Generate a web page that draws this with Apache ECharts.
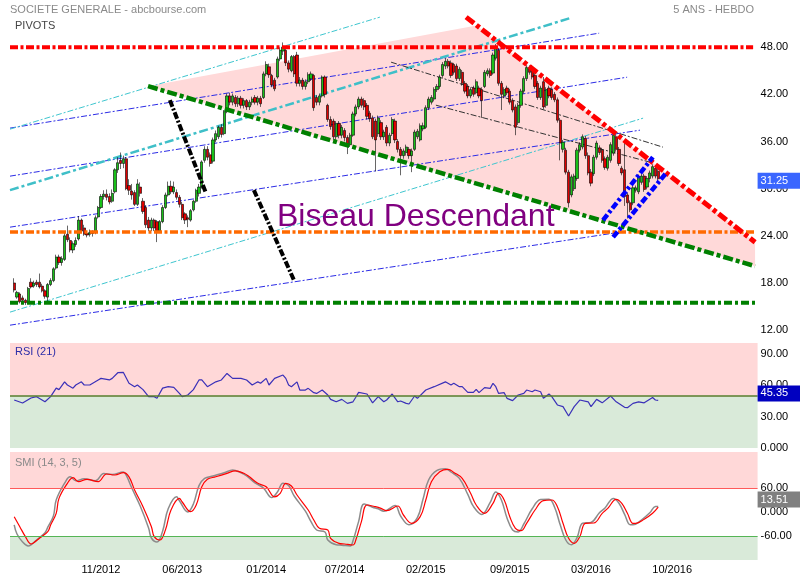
<!DOCTYPE html>
<html><head><meta charset="utf-8">
<script src="https://cdn.jsdelivr.net/npm/echarts/dist/echarts.min.js"></script>
<style>html,body{margin:0;padding:0;background:#fff}#c{width:800px;height:580px}</style>
</head><body><div id="c"></div>
<script>
// ---------- data ----------
const startDate = '2012-04-09';      // first weekly category
const nWeeks = 267;                  // weekly categories (incl. empty future)
const xTickDates = ['2012-11-19','2013-06-10','2014-01-06','2014-07-21','2015-02-09','2015-09-07','2016-03-28','2016-10-17'];

// weekly candles, week index 1..231
const opens = [18.0,16.2,16.6,16.1,15.8,15.5,18.1,17.6,18.1,18.1,17.6,17.0,16.2,17.8,18.3,19.9,21.3,20.6,21.0,24.2,
23.4,22.2,22.9,23.6,26.0,25.0,24.3,24.2,24.4,24.4,26.4,27.6,29.0,29.3,29.0,28.4,29.6,32.4,33.6,33.2,
33.8,30.4,29.7,29.5,28.0,30.2,28.4,27.6,26.0,25.0,26.0,25.8,24.6,25.8,27.6,29.2,30.3,29.6,29.5,28.9,
28.0,26.8,26.3,26.0,27.3,28.4,29.4,30.2,33.6,35.0,34.3,33.5,36.2,36.6,37.8,37.0,39.8,41.8,41.0,41.6,
40.8,41.5,40.6,41.2,40.4,41.0,41.6,41.0,41.5,41.6,44.6,45.5,44.4,43.8,44.2,46.5,47.5,47.6,46.0,45.0,
46.8,47.0,43.4,43.8,43.0,43.6,44.0,44.4,41.6,41.0,41.8,44.2,40.6,38.8,38.6,36.6,38.3,36.8,37.4,36.5,
35.6,36.8,39.5,40.4,41.4,41.2,40.6,39.6,39.0,38.6,37.0,38.4,36.6,37.8,35.8,37.0,38.6,36.0,35.0,34.2,
34.6,35.0,34.2,35.0,36.6,36.2,37.6,37.8,40.3,41.0,41.4,42.6,43.0,44.4,45.6,46.2,46.0,45.8,45.6,44.0,
44.8,43.4,43.0,41.8,42.8,42.2,42.8,42.6,43.0,44.6,45.0,44.7,46.6,47.6,43.4,41.8,42.8,42.4,41.2,40.4,
38.4,40.6,42.4,44.0,45.4,45.0,44.4,43.4,41.6,43.6,40.6,42.8,42.6,42.0,41.3,38.7,35.0,34.9,32.1,29.2,
30.0,31.3,34.9,35.3,36.4,34.2,32.1,31.9,34.0,35.2,34.9,33.8,32.6,33.6,34.5,36.6,35.0,32.6,32.4,29.2,
28.2,28.2,29.8,29.6,30.8,31.6,30.2,31.3,31.6,32.6,32.2];
const closes = [17.1,16.8,15.6,15.8,15.5,17.3,17.5,18.0,17.8,17.5,17.0,16.3,17.8,18.3,19.8,21.3,20.6,21.1,24.0,23.5,
22.2,23.0,23.4,26.0,24.6,24.2,24.1,24.4,24.3,26.3,27.6,29.0,29.3,28.9,28.3,29.4,32.4,33.3,33.2,33.8,
30.0,29.8,29.2,28.0,30.6,29.4,27.1,25.4,25.0,26.0,25.0,24.6,25.8,27.6,29.2,30.3,29.6,30.2,28.9,28.0,
26.3,26.0,26.1,27.2,28.4,29.8,30.2,33.4,35.0,34.0,33.2,36.2,37.0,37.8,36.9,39.8,41.8,41.0,41.8,40.8,
41.5,40.6,41.2,40.4,41.0,41.4,41.0,41.5,40.8,44.6,45.8,44.5,43.2,42.7,46.5,47.6,48.0,46.0,45.2,46.8,
44.6,43.4,43.8,43.0,43.6,44.5,44.6,40.3,41.0,41.8,44.2,42.0,38.8,37.9,36.6,38.3,36.8,37.8,36.5,35.6,
36.8,39.5,40.4,41.4,40.6,40.4,39.2,38.9,36.6,36.2,39.0,36.6,37.2,35.8,36.8,38.8,36.2,35.0,34.2,34.8,
35.3,34.2,34.8,37.2,37.3,38.0,38.0,40.3,41.4,41.6,42.6,43.0,44.2,45.8,46.2,45.6,44.4,44.8,44.0,45.2,
43.4,42.4,41.8,42.6,42.0,43.6,41.8,41.2,44.8,45.0,44.4,47.0,47.9,43.4,42.0,42.6,42.2,41.0,40.0,37.8,
40.6,42.4,44.0,45.4,44.8,44.2,43.0,41.6,42.8,40.4,42.6,41.8,41.6,41.3,38.7,35.8,35.9,32.1,28.2,31.5,
31.6,34.9,35.6,36.6,34.2,32.0,30.7,34.0,35.8,34.6,33.6,32.7,34.0,35.6,36.8,35.0,33.2,32.0,29.0,28.2,
27.3,30.1,30.1,31.5,31.6,29.9,31.3,32.0,32.8,31.6,31.25];
const lows = [16.8,16.0,15.4,15.5,15.2,15.4,17.3,17.4,17.5,17.3,16.8,16.0,15.7,17.6,18.1,19.7,20.3,20.2,20.8,23.2,
21.9,21.8,22.6,23.4,24.4,24.0,23.8,23.9,23.9,24.2,26.2,27.4,28.6,28.5,28.0,28.2,29.4,32.0,32.5,32.6,
29.8,29.2,28.6,27.8,27.8,29.0,26.8,25.0,24.6,24.6,24.6,23.2,24.4,25.6,27.4,29.0,29.3,29.3,28.6,27.6,
26.0,25.5,25.1,25.8,27.1,28.2,29.0,30.0,33.3,33.6,32.8,33.2,35.9,36.3,36.5,36.8,39.6,40.6,40.6,40.4,
40.4,40.2,40.2,40.0,40.0,40.6,40.7,40.6,40.4,41.4,44.3,44.1,42.9,42.4,44.0,46.2,47.0,45.6,44.8,44.8,
44.2,43.0,43.0,42.6,42.6,43.3,43.7,39.9,40.6,40.6,41.6,41.6,38.5,37.5,36.2,36.2,36.4,36.4,36.0,34.4,
35.3,36.6,39.2,40.1,40.3,40.0,38.8,38.5,36.3,32.2,36.6,36.2,36.2,35.4,35.4,36.7,35.8,34.6,31.7,33.8,
34.2,33.8,32.1,34.8,36.3,36.0,37.3,37.6,40.0,40.7,41.1,42.3,42.7,44.1,45.2,45.3,44.1,44.5,43.7,43.7,
43.1,42.1,41.5,41.5,41.7,42.0,41.5,39.0,42.8,44.3,44.1,44.5,46.3,43.1,40.0,41.5,41.9,40.7,39.7,36.8,
38.1,40.3,42.1,43.7,44.5,43.9,42.7,41.3,41.3,40.1,40.3,41.5,41.3,41.0,38.4,33.6,34.6,31.8,27.6,28.9,
29.7,31.0,34.6,35.0,33.8,31.7,30.3,31.6,33.7,34.3,33.3,32.4,32.3,33.3,34.2,34.7,32.9,31.7,27.8,26.2,
27.0,27.9,29.5,29.3,30.5,29.6,29.9,30.8,31.3,31.3,30.9];
const highs = [18.6,17.0,16.8,16.4,16.0,17.5,18.6,18.3,18.4,19.2,17.9,17.2,18.0,18.6,20.0,21.6,21.6,21.4,24.4,25.3,
23.8,23.3,23.8,26.5,26.2,25.4,24.6,24.8,24.7,26.6,27.8,29.3,29.8,29.9,29.4,29.9,32.6,34.0,34.6,34.2,
34.0,31.2,30.6,29.8,31.2,30.8,28.8,27.9,26.4,26.3,26.2,26.0,26.0,27.9,29.5,30.9,31.0,30.9,29.9,29.2,
28.3,27.0,26.6,27.4,28.6,30.0,30.6,33.6,35.4,35.4,34.6,36.5,37.4,38.0,38.2,40.0,42.1,42.2,42.1,41.9,
41.8,41.8,41.5,41.4,41.3,41.7,41.9,41.8,41.8,44.9,46.2,45.9,44.6,44.1,46.8,47.9,48.6,47.9,46.3,47.0,
47.0,47.4,44.2,44.1,43.9,44.8,44.9,44.6,41.9,42.1,44.4,44.4,40.8,39.2,38.9,38.6,38.6,38.1,37.7,36.8,
37.1,39.8,40.7,41.7,41.7,41.5,40.9,39.9,39.3,38.9,39.3,38.7,37.5,38.1,37.1,39.1,38.9,36.3,35.3,35.1,
35.6,35.3,35.1,37.5,37.6,38.3,38.4,40.6,41.7,41.9,42.9,43.3,44.5,46.1,46.6,46.5,46.3,46.0,45.9,45.5,
45.1,43.7,43.3,42.9,43.1,43.9,43.1,42.9,45.1,45.3,45.3,47.3,48.4,47.9,43.7,42.9,43.1,42.7,41.5,40.7,
40.9,42.7,44.3,45.7,45.7,45.3,44.7,43.7,43.1,44.2,42.9,43.1,42.9,42.3,41.6,39.0,36.2,35.2,32.4,31.8,
31.9,35.2,35.9,36.9,36.7,34.6,32.5,34.3,36.1,35.5,35.2,34.1,34.3,35.9,37.1,36.9,35.3,32.9,35.8,29.5,
28.5,30.4,30.4,31.8,31.9,31.9,31.6,32.3,33.1,32.9,32.5];

// RSI (21) : [week index, value]
const rsiPoints = [[1,45.7],[4,42.8],[7,47.6],[9,48.9],[12,44],[14,48.9],[16,57],[17,55.6],[19,63],[20,60],[22,57],[23,60],[25,63],[26,60],[28,60],[31,64.8],[32,66.3],[35,64.8],[36,66.3],[38,71.7],[40,72],[42,61.6],[44,58.4],[45,60],[47,55.6],[49,48.9],[51,48.9],[52,47.3],[54,57],[56,58.4],[58,57.8],[60,52],[61,48.9],[63,50.5],[65,55.6],[67,64.8],[68,64.8],[70,58.4],[73,63],[75,64.8],[77,71],[79,66.3],[82,66.3],[84,64.8],[86,60],[88,63],[89,61.6],[91,66.3],[92,60],[94,66.3],[97,69.5],[98,66.3],[99,60],[100,58.4],[102,63],[103,55.2],[105,55.2],[106,56.8],[108,52.7],[109,52],[111,55.2],[113,50.5],[114,46.3],[116,44],[118,46.3],[120,42.5],[122,44],[123,48.3],[124,53],[127,51.4],[129,43],[131,48.9],[133,44],[134,45.7],[136,51.4],[138,44],[139,44.8],[141,42.5],[142,41.9],[144,49.5],[145,47.3],[148,55.2],[151,58.4],[155,63],[157,60],[158,61.6],[160,58.4],[161,58.4],[163,53],[165,53],[166,55.9],[167,52.7],[169,57.5],[171,56.8],[172,61.6],[173,58.4],[174,52],[176,52.7],[177,47.3],[179,45.1],[181,50.5],[183,52],[184,55.2],[186,53.6],[187,55.2],[189,53.6],[190,47.3],[192,51.4],[193,48.9],[195,41],[197,39.4],[199,30.5],[201,39.4],[203,45.7],[206,44],[207,39.4],[209,46.3],[211,43],[214,49.5],[216,44],[219,38.7],[220,38.4],[222,42.5],[224,44],[226,43],[229,48.1],[230,45.7],[231,45.35]];

// SMI (14,3,5) : main (grey) and signal (red)
const smiMain = [[1,-32],[2,-55],[4,-75],[6,-85],[7,-82],[9,-70],[12,-52],[13,-38],[15,-10],[16,30],[19,72],[21,88],[23,78],[26,83],[30,78],[33,96],[36,94],[40,100],[41,92],[43,60],[46,15],[49,-40],[50,-65],[52,-75],[54,-48],[56,8],[59,38],[60,28],[63,0],[65,20],[67,66],[69,84],[72,90],[76,98],[79,105],[82,98],[84,90],[87,73],[90,60],[93,36],[95,50],[97,72],[99,66],[101,40],[105,2],[107,-24],[109,-45],[112,-50],[113,-70],[116,-82],[118,-83],[121,-85],[122,-72],[124,-24],[126,20],[129,12],[131,8],[133,2],[137,16],[139,-10],[142,-32],[145,-14],[147,32],[149,80],[152,104],[155,108],[157,100],[160,84],[163,44],[165,14],[168,-6],[171,24],[173,50],[175,30],[177,-15],[179,-45],[181,-50],[183,-30],[186,8],[189,31],[192,32],[194,12],[196,-32],[198,-70],[200,-82],[202,-64],[204,-28],[207,-26],[210,-2],[212,10],[215,34],[217,22],[219,-6],[221,-32],[222,-32],[225,-20],[228,-2],[230,14],[231,13.51]];
const smiSignal = [[1,-11.7],[3,-36.7],[5,-61.7],[7,-80],[8,-76.7],[10,-65.8],[13,-49],[14,-32.5],[16,-3.3],[17,34],[20,71.7],[22,85.8],[24,75.8],[27,81.6],[31,75.8],[34,95],[37,92.5],[40,98.3],[42,88],[44,55],[47,13.3],[50,-36.7],[51,-61.7],[53,-70],[55,-45],[57,5],[60,34],[61,25],[64,0.8],[66,17.5],[68,63],[70,81.7],[73,88],[77,96.7],[80,103],[83,96.7],[85,88],[88,71.7],[91,63],[94,38],[96,46.7],[98,71.7],[100,65],[102,42.5],[106,5],[108,-20],[110,-40.8],[113,-45],[114,-65.8],[117,-78.3],[119,-80],[122,-82.5],[123,-70],[125,-24],[127,17.5],[130,13.3],[132,9.2],[134,3.3],[138,15],[140,-7.5],[143,-28.3],[146,-11.7],[148,30],[150,75.8],[153,100.8],[156,106.7],[158,99],[161,84],[164,46.7],[166,17.5],[169,-3.3],[172,21.7],[174,46.7],[176,30],[178,-11.7],[180,-40.8],[182,-46.7],[184,-28.3],[187,5],[190,28.3],[193,30],[195,13.3],[197,-28.3],[199,-65.8],[201,-78.3],[203,-61.7],[205,-28.3],[208,-27.5],[211,-3.3],[213,9.2],[216,31.7],[218,21.7],[220,-3.3],[222,-28.3],[223,-28.3],[226,-18.3],[229,-3.3],[231,12]];

const lastPrice = 31.25, lastRsi = 45.35, lastSmi = 13.51;

// drawn trendlines / pivots : [week1, price1, week2, price2]
const pivot48 = [[-0.5,48,264.9,48]];
const pivotOrange = [[-0.5,24.5,265.6,24.5]];
const pivotGreen = [[-0.5,15.47,265.6,15.47]];
const wedgeTop = [[162.4,51.82,265.6,23.19]];
const wedgeBottom = [[48.8,43.04,265.6,20.14]];
const wedgeFill = [[48.8,43.04],[166.1,50.77],[265.6,23.19],[265.6,20.14]];
const cyanThin = [[-0.5,37.57,131.6,51.82],[-0.5,14.29,225.6,38.97]];
const cyanThick = [[-0.5,29.81,199.5,51.69]];
const blueThin = [[-0.5,37.70,209.9,49.78],[-0.5,31.59,219.9,44.18],[-0.5,25.10,224.5,37.44],[-0.5,12.63,217.4,24.47]];
const blackThick = [[56.6,41.26,69.5,29.43],[86.6,29.81,100.9,18.36]];
const darkThin = [[135.6,46.09,232.7,35.28],[151.6,40.62,228.1,33.37]];
const blueChannel = [[211.3,25.99,229.1,34.01],[214.9,23.83,234.1,32.10]];

// ---------- chart ----------
const FONT = '"Liberation Sans", Arial, sans-serif';
const DAY = 86400000;
const t0 = Date.parse(startDate + 'T00:00:00Z');
const weeks = [];
for (let k = 0; k < nWeeks; k++) weeks.push(new Date(t0 + k * 7 * DAY).toISOString().slice(0, 10));
const tickSet = new Set(xTickDates);
const candleData = opens.map((o, k) => [k + 1, o, closes[k], lows[k], highs[k]]);

function segSeries(list, color, width, dash, z) {
  return list.map(s => ({
    type: 'line', xAxisIndex: 1, yAxisIndex: 0, data: [[s[0], s[1]], [s[2], s[3]]],
    symbol: 'none', silent: true, animation: false, z: z,
    lineStyle: { color: color, width: width, type: dash, cap: 'butt' }
  }));
}
const ylab = { color: '#000', fontSize: 11, fontFamily: FONT, margin: 3 };
const grids = [
  { left: 10, width: 747.6, top: 0, height: 377.3, outerBoundsMode: 'none' },
  { left: 10, width: 747.6, top: 343, height: 105, outerBoundsMode: 'none' },
  { left: 10, width: 747.6, top: 452, height: 108, outerBoundsMode: 'none' }
];
const hiddenLine = { color: 'rgba(0,0,0,0)', width: 1, type: 'solid' };
function valueBox(bg, text, dy) {
  return { show: true, position: 'end', distance: 0, color: '#fff', backgroundColor: bg,
    fontSize: 11, fontFamily: FONT, padding: [1, 14, 1, 3], lineHeight: 14,
    formatter: text, offset: [0, dy], opacity: 1 };
}

const option = {
  animation: false,
  backgroundColor: '#fff',
  grid: grids,
  xAxis: [
    { type: 'category', gridIndex: 0, data: weeks, show: false },
    { type: 'value', gridIndex: 0, min: -0.5, max: nWeeks - 0.5, show: false },
    { type: 'category', gridIndex: 1, data: weeks, show: false },
    { type: 'category', gridIndex: 2, data: weeks, axisLine: { show: false }, axisTick: { show: false },
      splitLine: { show: false },
      axisLabel: { interval: (i, v) => tickSet.has(v), formatter: v => v.slice(5, 7) + '/' + v.slice(0, 4),
        color: '#000', fontSize: 11, fontFamily: FONT, margin: 4 } }
  ],
  yAxis: [
    { type: 'value', gridIndex: 0, position: 'right', min: 6, max: 54, interval: 6,
      axisLine: { show: false }, axisTick: { show: false }, splitLine: { show: false },
      axisLabel: Object.assign({}, ylab, { formatter: v => (v === 6 || v === 54) ? '' : v.toFixed(2) }) },
    { type: 'value', gridIndex: 1, position: 'right', min: 0, max: 100, interval: 30,
      axisLine: { show: false }, axisTick: { show: false }, splitLine: { show: false },
      axisLabel: Object.assign({}, ylab, { formatter: v => v === 100 ? '' : (v === 0 ? '0.000' : v.toFixed(2)) }) },
    { type: 'value', gridIndex: 2, position: 'right', min: -120, max: 150, interval: 60,
      axisLine: { show: false }, axisTick: { show: false }, splitLine: { show: false },
      axisLabel: Object.assign({}, ylab, { formatter: v => (v === 60 || v === -60) ? v.toFixed(2) : (v === 0 ? '0.000' : '') }) }
  ],
  graphic: [
    { type: 'text', x: 10, y: 10, style: { text: 'SOCIETE GENERALE - abcbourse.com', fill: '#8a8a8a', font: '11px ' + FONT, verticalAlign: 'middle' } },
    { type: 'text', x: 15, y: 25.5, style: { text: 'PIVOTS', fill: '#444', font: '11px ' + FONT, verticalAlign: 'middle' } },
    { type: 'text', x: 754, y: 10, style: { text: '5 ANS - HEBDO', fill: '#8a8a8a', font: '11px ' + FONT, align: 'right', verticalAlign: 'middle' } },
    { type: 'text', x: 277, y: 217, z: 20, style: { text: 'Biseau Descendant', fill: '#800080', font: '32px ' + FONT, verticalAlign: 'middle' } },
    { type: 'text', x: 15, y: 351.5, z: 20, style: { text: 'RSI (21)', fill: '#2c2ca8', font: '11px ' + FONT, verticalAlign: 'middle' } },
    { type: 'text', x: 15, y: 462.5, z: 20, style: { text: 'SMI (14, 3, 5)', fill: '#8a8a8a', font: '11px ' + FONT, verticalAlign: 'middle' } }
  ],
  series: [
    { type: 'custom', xAxisIndex: 1, yAxisIndex: 0, data: [wedgeFill[0]], silent: true, z: 1,
      renderItem: (params, api) => ({ type: 'polygon', shape: { points: wedgeFill.map(p => api.coord(p)) }, style: { fill: '#ffd9d9' } }) },
    ...segSeries(blueThin, '#2c2ce6', 1, [6, 2, 2, 2], 2),
    ...segSeries(cyanThin, '#3fc6cf', 1, [6, 2, 2, 2], 2),
    ...segSeries(cyanThick, '#3fbfc8', 2.5, [9, 3, 3, 3], 2),
    ...segSeries(darkThin, '#333', 1, [6, 2, 2, 2], 2),
    { type: 'candlestick', xAxisIndex: 0, yAxisIndex: 0, data: candleData, encode: { x: 0, y: [1, 2, 3, 4] },
      barWidth: 2.6, z: 3,
      itemStyle: { color: '#19c019', color0: '#e00000', borderColor: '#000', borderColor0: '#000', borderWidth: 0.6 },
      markLine: { silent: true, symbol: 'none', animation: false, z: 10,
        data: [{ yAxis: lastPrice, lineStyle: hiddenLine, label: valueBox('#3a66ff', lastPrice.toFixed(2), 2) }] } },
    ...segSeries(pivot48, '#ff0000', 4, [8, 2.5, 3, 2.5], 4),
    ...segSeries(pivotOrange, '#ff6a00', 3.5, [8, 2.5, 3, 2.5], 4),
    ...segSeries(pivotGreen, '#008000', 4, [8, 3, 3, 3], 4),
    ...segSeries(wedgeBottom, '#008000', 4.5, [10, 3, 4, 3], 4),
    ...segSeries(wedgeTop, '#ff0000', 5, [10, 3, 4, 3], 4),
    ...segSeries(blackThick, '#000', 4, [7, 2, 2, 2], 4),
    ...segSeries(blueChannel, '#0000ff', 4.5, [7, 2.5, 3, 2.5], 4),
    { type: 'line', xAxisIndex: 2, yAxisIndex: 1, data: rsiPoints, symbol: 'none', silent: true, z: 3,
      lineStyle: { color: '#3a30b8', width: 1.2 },
      markArea: { silent: true, data: [
        [{ yAxis: 50, itemStyle: { color: '#ffd8d8' } }, { yAxis: 100 }],
        [{ yAxis: 0, itemStyle: { color: '#d9ead9' } }, { yAxis: 50 }] ] },
      markLine: { silent: true, symbol: 'none', animation: false, z: 10, data: [
        { yAxis: 50, lineStyle: { color: '#5b7a2b', width: 1.5, type: 'solid' }, label: { show: false } },
        { yAxis: lastRsi, lineStyle: hiddenLine, label: valueBox('#0000c0', lastRsi.toFixed(2), -7) } ] } },
    { type: 'line', xAxisIndex: 3, yAxisIndex: 2, data: smiMain, symbol: 'none', silent: true, smooth: 0.4, z: 3,
      lineStyle: { color: '#8c8c8c', width: 1.5 },
      markArea: { silent: true, data: [
        [{ yAxis: 60, itemStyle: { color: '#ffd8d8' } }, { yAxis: 150 }],
        [{ yAxis: -120, itemStyle: { color: '#d9ead9' } }, { yAxis: -60 }] ] },
      markLine: { silent: true, symbol: 'none', animation: false, z: 10, data: [
        { yAxis: 60, lineStyle: { color: '#ff5a5a', width: 1, type: 'solid' }, label: { show: false } },
        { yAxis: -60, lineStyle: { color: '#55b555', width: 1, type: 'solid' }, label: { show: false } },
        { yAxis: lastSmi, lineStyle: hiddenLine, label: valueBox('#808080', lastSmi.toFixed(2), -7) } ] } },
    { type: 'line', xAxisIndex: 3, yAxisIndex: 2, data: smiSignal, symbol: 'none', silent: true, smooth: 0.4, z: 4,
      lineStyle: { color: '#ff0000', width: 1.2 } }
  ]
};
const chart = echarts.init(document.getElementById('c'));
chart.setOption(option);
</script>
</body></html>
